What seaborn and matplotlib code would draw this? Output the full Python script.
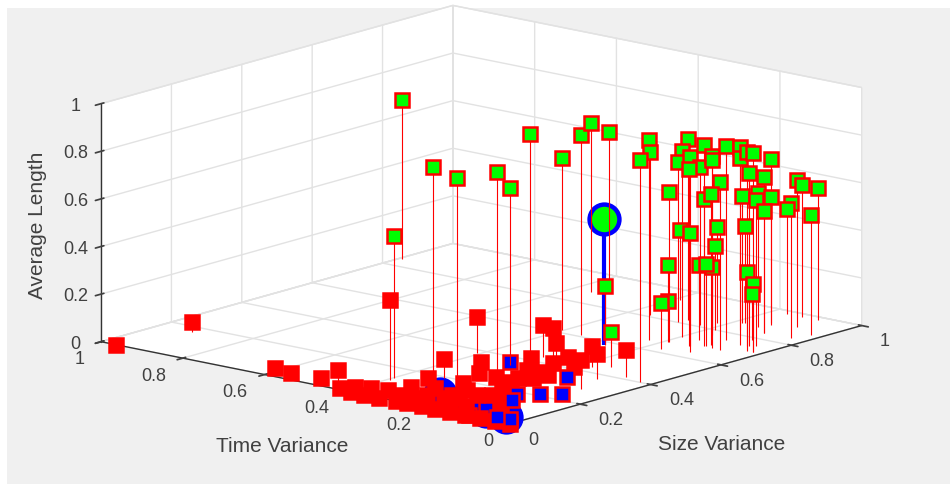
"""3D stem chart of average length against size and time variance."""

import matplotlib

matplotlib.use("Agg")
import matplotlib.pyplot as plt
import seaborn as sns
from matplotlib.patches import Rectangle

# ---- Data -------------------------------------------------------------------
green_size = [.850, .133, .215, .183, .254, .348, .372, .618, .611, .874, .943, .579, .454,
              .661, .812, .404, .826, .718, .803, .637, .810, .672, .690, .687, .765, .751,
              .738, .828, .716, .717, .894, .748, .838, .684, .672, .785, .703, .872, .866,
              .756, .906, .912, .978, .978, .845, .978, .881, .937, .673, .842, .875, .838,
              .798, .743, .719, .794, .691, .746, .717, .782, .670, .621]
green_time = [.996, .399, .374, .287, .251, .299, .270, .405, .352, .554, .569, .265, .144,
              .228, .357, .030, .275, .197, .279, .108, .232, .139, .118, .096, .164, .118,
              .071, .149, .036, .022, .131, .058, .099, .075, .188, .200, .114, .182, .139,
              .048, .141, .083, .127, .089, .040, .165, .022, .391, .138, .218, .178, .099,
              .184, .252, .156, .190, .116, .061, .022, .080, .191, .164]
green_length = [.664, .597, .861, .857, .866, .745, .971, .723, .840, .710, .639, .248, .147,
                .840, .685, .933, .760, .782, .672, .819, .664, .744, .845, .807, .735, .815,
                .832, .723, .832, .836, .697, .723, .655, .706, .630, .550, .634, .534, .563,
                .613, .529, .618, .555, .555, .567, .441, .508, .294, .475, .403, .408, .513,
                .353, .273, .315, .265, .345, .307, .282, .193, .172, .193]

red_size = [0, .166, .054, .044, .049, .026, .011, .034, 0, 0, .047, 0, .055, 0, .041, 0,
            .099, 0, .174, .070, 0, .072, 0, .090, 0, .184, .263, .254, 0, .129, .259, 0,
            .147, .247, 0, .337, .343, .410, .463, .360, .434, .428, .402, .294, .431, .372,
            .417, .192, .381, .117, .041, .122, .100, .056, .097, .148, .176, .280, .297,
            .333, .410]
red_time = [.964, .921, .621, .572, .503, .443, .424, .409, .389, .356, .381, .320, .346,
            .278, .299, .252, .328, .215, .349, .263, .184, .224, .147, .202, .110, .274,
            .303, .289, .073, .191, .258, .037, .170, .210, 0, .249, .218, .248, .257, .259,
            .293, .263, .233, .078, .171, .106, .076, .327, .409, .394, .262, .289, .227,
            .156, .105, .232, .171, .220, .198, .193, .197]
red_length = [0, .040, 0, 0, 0, .063, 0, 0, 0, 0, 0, 0, 0, 0, 0, 0, 0, 0, 0, 0, 0, 0, 0, 0,
              0, 0, 0, .055, 0, 0, 0, 0, 0, 0, 0, 0, 0, 0, 0, .038, .134, .134, .092, .118,
              .092, .105, .113, .080, .151, .336, 0, 0, 0, 0, 0, 0, 0, 0, 0, 0, 0]

# Blue squares sitting on top of the red band, then the ones it covers.
blue_size = [.366, .343, .241, .215, .182, .146, .030, .026]
blue_time = [.314, .155, .080, .112, .140, .121, .025, .055]
blue_length = [0, 0, 0, 0, 0, 0, 0, 0]
under_size = [.068, .006, .017, .036]
under_time = [.117, .105, .142, .180]
under_length = [0, 0, 0, 0]

# Large circles: the raised one, then the three on the floor.
circle_size = [.578]
circle_time = [.266]
circle_length = [.529]
floor_circle_size = [.092, .037, .050]
floor_circle_time = [.250, .042, .102]
floor_circle_length = [0, 0, 0]

ticks = [0, 0.2, 0.4, 0.6, 0.8, 1]
tick_labels = ["0", "0.2", "0.4", "0.6", "0.8", "1"]

# ---- Style ------------------------------------------------------------------
sns.set_theme(style="white")
plt.rcParams["font.family"] = ["Liberation Sans", "DejaVu Sans"]
TEXT = "#404040"
GRID = "#e2e2e2"
RED, GREEN, BLUE = "#ff0000", "#00ff00", "#0000ff"


def stems(ax, x, y, z, line_color, line_width, marker, face, edge, size, edge_width, order):
    c = ax.stem(x, y, z, linefmt="-", markerfmt=marker, basefmt=" ")
    c.stemlines.set_color(line_color)
    c.stemlines.set_linewidth(line_width)
    c.stemlines.set_zorder(order)
    c.markerline.set_markerfacecolor(face)
    c.markerline.set_markeredgecolor(edge)
    c.markerline.set_markersize(size)
    c.markerline.set_markeredgewidth(edge_width)
    c.markerline.set_zorder(order + 1)
    return c


# ---- Plot -------------------------------------------------------------------
fig = plt.figure(figsize=(9.53, 4.87), dpi=100, facecolor="white")
fig.add_artist(Rectangle((7 / 953, 3 / 487), 943 / 953, 476 / 487, transform=fig.transFigure,
                         facecolor="#f0f0f0", edgecolor="none", zorder=-1))
ax = fig.add_axes([-8 / 953, -217 / 487, 1, 953 / 487], projection="3d",
                  proj_type="ortho", computed_zorder=False)
ax.set_facecolor("none")
ax.view_init(elev=13.7, azim=-139.7)
ax.set_box_aspect((544, 536, 245), zoom=0.817)

stems(ax, floor_circle_size, floor_circle_time, floor_circle_length, BLUE, 3, "o", BLUE, BLUE, 21.5, 3.2, 2)
stems(ax, under_size, under_time, under_length, RED, 0.8, "s", BLUE, RED, 10, 1.8, 4)
stems(ax, red_size, red_time, red_length, RED, 0.8, "s", RED, RED, 10, 1.8, 6)
stems(ax, blue_size, blue_time, blue_length, RED, 0.8, "s", BLUE, RED, 10, 1.8, 8)
stems(ax, circle_size, circle_time, circle_length, BLUE, 3, "o", GREEN, BLUE, 21.5, 3.2, 8)
stems(ax, green_size, green_time, green_length, RED, 0.8, "s", GREEN, RED, 10, 1.8, 10)

ax.set_xlim(0, 1, view_margin=0)
ax.set_ylim(0, 1, view_margin=0)
ax.set_zlim(0, 1, view_margin=0)

ax.xaxis.set_ticks(ticks)
ax.yaxis.set_ticks(ticks)
ax.zaxis.set_ticks(ticks)
ax.xaxis.set_ticklabels(tick_labels, ha="left", va="center_baseline")
ax.yaxis.set_ticklabels(tick_labels, ha="right", va="center_baseline")
ax.zaxis.set_ticklabels(tick_labels, va="center_baseline")

for axis in (ax.xaxis, ax.yaxis, ax.zaxis):
    axis.set_pane_color("white")
    axis.pane.set_edgecolor(GRID)
    axis.line.set_color("#333333")
    axis.line.set_linewidth(1)
    axis._axinfo["grid"].update(color=GRID, linewidth=1)
ax.tick_params(labelsize=13, colors=TEXT)
ax.xaxis.set_tick_params(pad=8)
ax.yaxis.set_tick_params(pad=9)
ax.zaxis.set_tick_params(pad=4)

# Axis titles sit where the reference has them, so they go in figure pixels.
fig.text(722 / 953, 1 - 444 / 487, "Size Variance", fontsize=15, color=TEXT, ha="center", va="center")
fig.text(282 / 953, 1 - 447 / 487, "Time Variance", fontsize=15, color=TEXT, ha="center", va="center")
fig.text(38 / 953, 1 - 225 / 487, "Average Length", fontsize=15, color=TEXT, ha="center", va="center",
         rotation=90)

fig.savefig("out.png", dpi=100)
plt.close(fig)
